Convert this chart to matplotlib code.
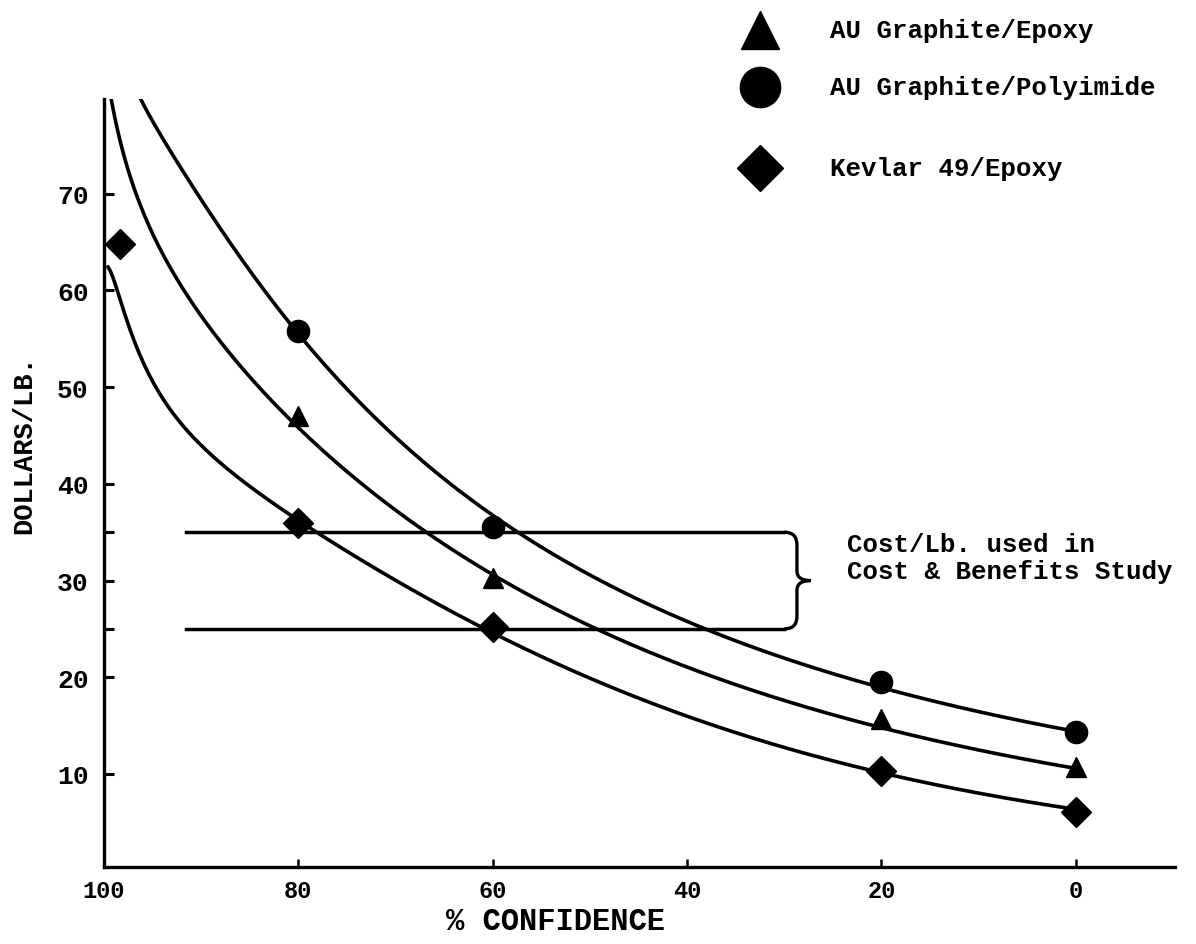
import numpy as np
import matplotlib
matplotlib.use("Agg")
import matplotlib.pyplot as plt
from matplotlib.path import Path
from matplotlib.patches import PathPatch
from matplotlib.lines import Line2D

# marker points (% confidence, dollars/lb)
conf = [80, 60, 20, 0]
epoxy_pts = [47.0, 30.3, 15.7, 10.7]
poly_pts = [55.8, 35.5, 19.5, 14.3]
kevlar_conf = [98.4, 80, 60, 20, 0]
kevlar_pts = [64.8, 36.0, 25.2, 10.3, 6.1]

# points
epoxy_cx = [0, 13, 28.4, 49, 60, 67.1, 71.6, 80, 85.3, 87, 93.6, 97, 99.3]
epoxy_cy = [10.7, 12.9, 17.2, 24.8, 30.3, 35.2, 39.1, 46.3, 51.2, 52.9, 62.6, 71.6, 79.8]
poly_cx = [0, 13, 28.4, 49, 60, 68.2, 75.7, 80, 86.7, 91.8, 96.4]
poly_cy = [14.3, 17.1, 21.9, 30.2, 35.5, 43.3, 51.2, 55.8, 64.7, 71.6, 80.3]
kevlar_cx = [0, 13, 28.4, 49, 60, 65.4, 70.6, 75.7, 80, 85.3, 92.2, 95.3, 98.7, 99.6]
kevlar_cy = [6.1, 8.8, 12.7, 19.7, 25.2, 26.9, 29.1, 32.6, 36.0, 40.8, 48.5, 50.9, 57.7, 64.0]

# cost band used in study
band = [25, 35]
band_x = [91.6, 30]

labels = ["AU Graphite/Epoxy", "AU Graphite/Polyimide", "Kevlar 49/Epoxy"]
xticks = [100, 80, 60, 40, 20, 0]
yticks = [10, 20, 30, 40, 50, 60, 70]

FONT = "Liberation Mono"


def smooth(cx, cy, deg=4, n=400):
    # french-curve look: polynomial fit of log(y) against log(102 - x)
    cx = np.asarray(cx, float)
    cy = np.asarray(cy, float)
    u = np.log(102 - cx)
    p = np.polyfit(u, np.log(cy), deg)
    xs = np.linspace(cx.min(), cx.max(), n)
    return xs, np.exp(np.polyval(p, np.log(102 - xs)))


fig = plt.figure(figsize=(11.96, 9.45), dpi=100)
ax = fig.add_axes([104 / 1196, 1 - 868 / 945, (1175 - 104) / 1196, (868 - 100) / 945])

lw = 2.6
for cx, cy in [(epoxy_cx, epoxy_cy), (poly_cx, poly_cy), (kevlar_cx, kevlar_cy)]:
    xs, ys = smooth(cx, cy)
    ax.plot(xs, ys, color="black", lw=lw, solid_capstyle="round")

ax.plot(conf, epoxy_pts, "^", color="black", ms=15, ls="none")
ax.plot(conf, poly_pts, "o", color="black", ms=16, ls="none")
ax.plot(kevlar_conf, kevlar_pts, "D", color="black", ms=15, ls="none",
        clip_on=False)

# band lines and brace
for b in band:
    ax.plot(band_x, [b, b], color="black", lw=2.5)
x0 = band_x[1]
xv = x0 - 1.3
xt = x0 - 2.7
lo, hi = band
mid = (lo + hi) / 2
verts = [(x0, hi), (xv, hi), (xv, hi - 1.3),
         (xv, mid + 1.0), (xv, mid), (xt, mid),
         (xv, mid), (xv, mid - 1.0),
         (xv, lo + 1.3), (xv, lo), (x0, lo)]
codes = [Path.MOVETO, Path.CURVE3, Path.CURVE3,
         Path.LINETO, Path.CURVE3, Path.CURVE3,
         Path.CURVE3, Path.CURVE3,
         Path.LINETO, Path.CURVE3, Path.CURVE3]
ax.add_patch(PathPatch(Path(verts, codes), fill=False, lw=2.4, color="black"))
ax.text(x0 - 6.5, mid + 2.4, "Cost/Lb. used in\nCost & Benefits Study",
        family=FONT, weight="bold", fontsize=18.5, va="center", ha="left",
        linespacing=1.15)

ax.set_xlim(100, -10.2)
ax.set_ylim(0.38, 79.8)
ax.set_xticks(xticks)
ax.set_yticks(yticks)
ax.set_yticks(band, minor=True)
ax.spines["top"].set_visible(False)
ax.spines["right"].set_visible(False)
ax.spines["left"].set_linewidth(2.4)
ax.spines["bottom"].set_linewidth(2.4)
ax.tick_params(axis="x", direction="in", length=6, width=1.8, pad=9)
ax.tick_params(axis="y", direction="in", length=7, width=2.2, pad=11)
ax.tick_params(axis="y", which="minor", direction="in", length=7, width=2.2)
for t in ax.get_xticklabels():
    t.set_fontfamily(FONT)
    t.set_fontweight("bold")
    t.set_fontsize(17)
for t in ax.get_yticklabels():
    t.set_fontfamily(FONT)
    t.set_fontweight("bold")
    t.set_fontsize(19)

fig.text(555 / 1196, 1 - 922 / 945, "% CONFIDENCE", family=FONT, weight="bold",
         fontsize=22, ha="center", va="center")
fig.text(24 / 1196, 1 - 445 / 945, "DOLLARS/LB.", family=FONT, weight="bold",
         fontsize=19.5, ha="center", va="center", rotation=90)

# legend drawn by hand at the top right
leg_rows = [31, 88, 169]
leg_marks = [("^", 27), ("o", 29), ("D", 23)]
for yy, (mk, ms), lab in zip(leg_rows, leg_marks, labels):
    fig.add_artist(Line2D([760 / 1196], [1 - yy / 945], marker=mk, ms=ms,
                          color="black", ls="none", transform=fig.transFigure))
    fig.text(830 / 1196, 1 - yy / 945, lab, family=FONT, weight="bold",
             fontsize=18.5, ha="left", va="center")

fig.savefig("out.png", dpi=100, facecolor="white")
